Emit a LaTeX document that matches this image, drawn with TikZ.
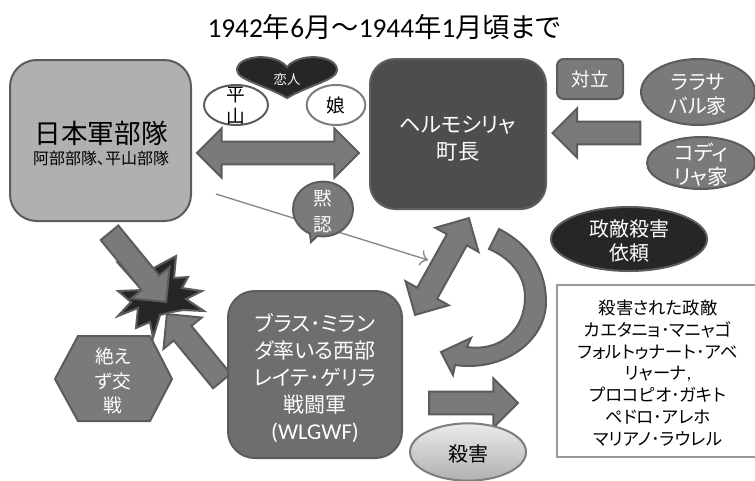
\documentclass[tikz,border=0pt]{standalone}
\usepackage{fontspec}
\setmainfont[RawFeature=+palt]{Noto Sans CJK JP}
\newfontfamily\latfont{Carlito}
\usepackage{tikz}
\usetikzlibrary{arrows.meta,shapes,shapes.arrows,shapes.callouts,shapes.geometric,positioning}
\definecolor{softgray}{HTML}{B0B0B0}
\definecolor{midgray}{HTML}{7A7A7A}
\definecolor{edgegray}{HTML}{5C5C5C}
\definecolor{mayorgray}{HTML}{4D4D4D}
\definecolor{nightgray}{HTML}{262626}
\definecolor{armygray}{HTML}{6E6E6E}
\definecolor{paleedge}{HTML}{999999}

\begin{document}
\begin{tikzpicture}[x=0.75pt,y=-0.75pt,node distance = 19pt]
	  \tikzstyle{board}=[rectangle,line width=1.5pt,draw=edgegray,inner sep=0pt,align=center]
	  \tikzstyle{oval}=[ellipse,line width=1.5pt,draw=edgegray,fill=midgray,inner sep=0pt]
	  \tikzstyle{blockarrow}=[line width=1.5pt,draw=edgegray,fill=midgray,inner xsep=0pt,inner ysep=7.8pt,
				  single arrow,single arrow head extend=10pt,minimum width=35.5pt]
	  \tikzstyle{twoarrow}=[line width=1.5pt,draw=edgegray,fill=midgray,inner xsep=0pt,inner ysep=7.8pt,
				  double arrow,double arrow head extend=10pt,minimum width=36pt]
	  \tikzstyle{whitetext}=[text=white,align=center,inner sep=0pt,font=\fontsize{15}{18.5}\selectfont]
	  \tikzstyle{blacktext}=[text=black,align=center,inner sep=0pt,font=\fontsize{13.5}{16.3}\selectfont]

	\useasboundingbox (0,0) rectangle (755,480);

	\node (title)[text=black,inner sep=0pt,font=\fontsize{20.5}{24}\selectfont] at (384,27) {{\latfont 1942}年{\latfont 6}月～{\latfont 1944}年{\latfont 1}月頃まで};

	% left side
	\node (japan_box)[board,fill=softgray,minimum width=135.75pt,minimum height=120.75pt,rounded corners=20pt] at (100.5,140.5) {};
	\node (japan_name)[blacktext,font=\fontsize{20}{24}\selectfont] at (101,133) {日本軍部隊};
	\node (japan_units)[blacktext,font=\fontsize{12}{14}\selectfont] [below of= japan_name]{阿部部隊、平山部隊};

	\node (hirayama)[oval,fill=white,minimum width=48pt,minimum height=30pt] at (236,105) {};
	\node (hirayama_text)[blacktext,font=\fontsize{14}{16}\selectfont] at (236,106) {平\\山};
	\node (musume)[oval,draw=edgegray!80,fill=white,minimum width=44pt,minimum height=30pt] at (336,105) {};
	\node (musume_text)[blacktext,font=\fontsize{14}{16}\selectfont] at (336,105) {娘};

	\draw[line width=1.5pt,draw=edgegray,fill=nightgray] (287,98) .. controls (265,85) and (237,80) .. (237,70)
		.. controls (237,55) and (275,52) .. (287,67)
		.. controls (299,52) and (337,55) .. (337,70)
		.. controls (337,80) and (309,85) .. (287,98) -- cycle;
	\node (lovers)[whitetext,font=\fontsize{10}{12}\selectfont] at (287,79) {恋人};

	\node (alliance)[twoarrow,minimum height=121.5pt] at (278,153) {};

	% mayor and the families
	\node (mayor_box)[board,fill=mayorgray,draw=mayorgray!90,minimum width=132pt,minimum height=112.5pt,rounded corners=19pt] at (458,134) {};
	\node (mayor_text)[whitetext,font=\fontsize{16}{20.25}\selectfont] at (458,139) {ヘルモシリャ\\町長};
	\node (conflict)[board,fill=midgray,text=white,minimum width=49.5pt,minimum height=30pt,rounded corners=5pt,
		font=\fontsize{14}{17}\selectfont] at (590,79) {対立};
	\node (lara)[oval,minimum width=85.5pt,minimum height=49.5pt] at (698,92) {};
	\node (lara_text)[whitetext,font=\fontsize{15}{18}\selectfont] at (698,95) {ララサ\\バル家};
	\node (kodi)[oval,minimum width=81pt,minimum height=39pt] at (701,163) {};
	\node (kodi_text)[whitetext,font=\fontsize{15.5}{18}\selectfont] at (701,165) {コディ\\リャ家};
	\node (family_arrow)[blockarrow,anchor=tip,rotate=180,minimum height=66pt] at (551,133) {};

	\node (request)[oval,fill=nightgray,minimum width=117pt,minimum height=48pt] at (629,239) {};
	\node (request_text)[whitetext,font=\fontsize{15}{18}\selectfont] at (629,241) {政敵殺害\\依頼};

	% tacit consent
	\coordinate (consent_start) at (216,194);
	\coordinate (consent_end) at (428,260);
	\draw[-{To[scale=1.5]},line width=1pt,draw=midgray!90] (consent_start) -- (consent_end);
	\node (consent)[ellipse callout,line width=1.5pt,draw=edgegray,fill=midgray,inner sep=0pt,minimum width=45pt,minimum height=41pt,
		callout absolute pointer={(311,242)}] at (323,209) {};
	\node (consent_text)[whitetext,font=\fontsize{14}{19.5}\selectfont] at (323,211) {黙\\認};

	\node (mayor_arrow)[twoarrow,rotate=60.9,minimum height=83pt] at (442,266.5) {};
	\draw[line width=1.5pt,draw=edgegray,fill=midgray] (499,229) .. controls (530,245) and (546,270) .. (546,302)
		.. controls (546,340) and (505,372) .. (455,365)
		-- (453,375) -- (441,352) -- (471,338) -- (467,347)
		.. controls (500,352) and (525,330) .. (525,297)
		.. controls (525,275) and (510,258) .. (489,249) -- cycle;

	% battle
	\draw[line width=1.5pt,draw=edgegray,fill=nightgray] (176,256) -- (174,278) -- (188,277) -- (182,288) -- (202,291)
		-- (186,299) -- (204,311) -- (183,310) -- (172,312) -- (160,315) -- (153,338) -- (150,322) -- (136,328)
		-- (138,308) -- (118,316) -- (131,302) -- (118,291) -- (142,290) -- (118,263) -- (150,270) -- cycle;
	\node (japan_arrow)[blockarrow,anchor=tip,rotate=-50.7,minimum height=67pt] at (167,303) {};
	\node (army_arrow)[blockarrow,anchor=tip,rotate=129.4,minimum height=65pt] at (166,313) {};

	\draw[line width=1.5pt,draw=edgegray,fill=midgray] (55,379) -- (78,336) -- (150,336) -- (172,379) -- (150,421) -- (78,421) -- cycle;
	\node (fight_text)[whitetext,font=\fontsize{14}{18.5}\selectfont] at (113,381) {絶え\\ず交\\戦};

	\node (army_box)[board,fill=armygray,minimum width=130.5pt,minimum height=125.25pt,rounded corners=20pt] at (315,374.5) {};
	\node (army_text)[whitetext,font=\fontsize{15.75}{20.25}\selectfont] at (315,378) {ブラス･ミラン\\ダ率いる西部\\レイテ･ゲリラ\\戦闘軍\\{\latfont\fontsize{17}{20.25}\selectfont (WLGWF)}};

	\node (kill_arrow)[blockarrow,anchor=tail,minimum height=66.75pt] at (428,403) {};
	\node (kill)[oval,draw=edgegray!80,top color=white!92!black,bottom color=softgray,minimum width=87pt,minimum height=43pt] at (468,452) {};
	\node (kill_text)[blacktext,font=\fontsize{15}{18}\selectfont] at (468,454) {殺害};

	\node (victims)[board,draw=paleedge,fill=white,minimum width=151.5pt,minimum height=129pt] at (658,371) {};
	\node (victims_text)[blacktext,font=\fontsize{13}{16.3}\selectfont] at (658,373) {殺害された政敵\\カエタニョ･マニャゴ\\フォルトゥナート･アベ\\リャーナ{\latfont ,}\\プロコピオ･ガキト\\ペドロ･アレホ\\マリアノ･ラウレル};
\end{tikzpicture}
\end{document}
